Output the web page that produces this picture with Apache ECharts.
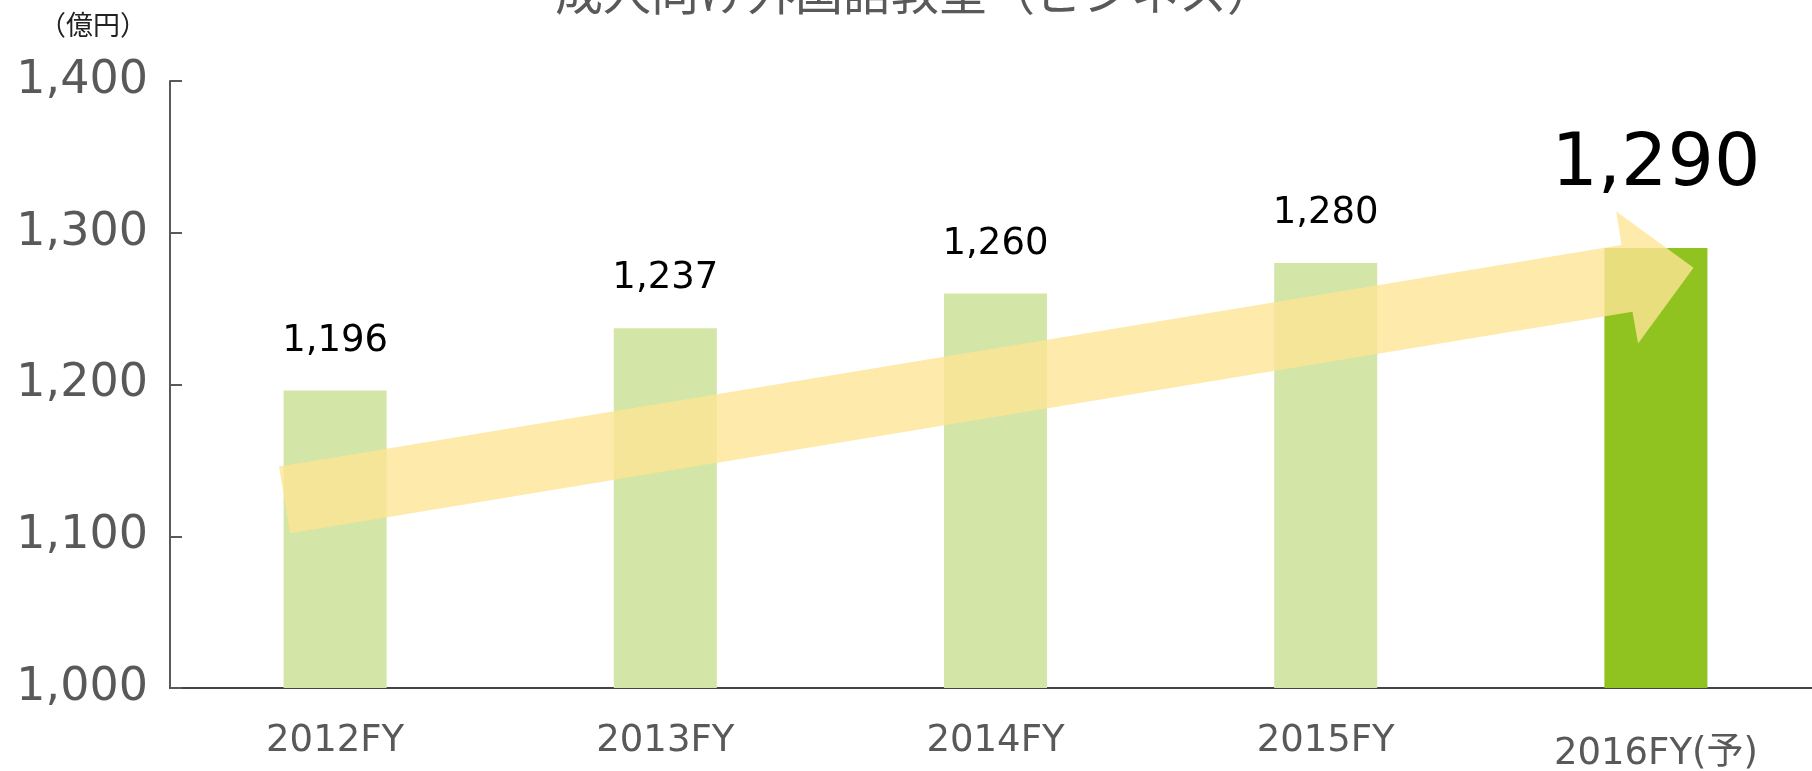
<!DOCTYPE html>
<html>
<head>
<meta charset="utf-8">
<script src="https://cdn.jsdelivr.net/npm/echarts@6/dist/echarts.min.js"></script>
<style>
  html, body { margin: 0; padding: 0; background: #fff; }
  #chart { width: 1812px; height: 771px; }
</style>
</head>
<body>
<div id="chart"></div>
<script>
const categories = ["2012FY", "2013FY", "2014FY", "2015FY", "2016FY(予)"];
const sales = [1196, 1237, 1260, 1280, 1290];
const yTicks = [1000, 1100, 1200, 1300, 1400];
// growth arrow outline, in [category position, 億円] space
const arrowPts = [
  [-0.170, 1146], [3.896, 1292], [3.880, 1314], [4.114, 1277],
  [3.946, 1227], [3.929, 1248], [-0.136, 1102]
];

const FONT = "'DejaVu Sans', 'Noto Sans CJK JP', sans-serif";
const fmt = (v) => v.toLocaleString("en-US");

const chart = echarts.init(document.getElementById("chart"));

chart.setOption({
  backgroundColor: "#fff",
  animation: false,
  title: [
    {
      text: "成人向け外国語教室（ビジネス）",
      left: 550,
      top: -37,
      textStyle: { color: "#595959", fontSize: 48, fontWeight: "normal", fontFamily: "'Noto Sans CJK JP', sans-serif" },
    },
    {
      text: "（億円）",
      left: 34,
      top: 6,
      textStyle: { color: "#222", fontSize: 27, fontWeight: "normal", fontFamily: "'Noto Sans CJK JP', sans-serif" },
    },
  ],
  grid: { left: 170, width: 1651, top: 81, bottom: 83, outerBoundsMode: "none" },
  xAxis: [
    {
      type: "category",
      data: categories,
      axisTick: { show: false },
      axisLine: { lineStyle: { color: "#444", width: 2 } },
      axisLabel: {
        interval: 0,
        color: "#595959",
        fontSize: 37,
        fontFamily: FONT,
        margin: 35,
        formatter: (v) => (v.indexOf("予") >= 0 ? "{p|" + v + "}" : v),
        rich: { p: { lineHeight: 62, fontSize: 37, color: "#595959", fontFamily: FONT } },
      },
    },
    { type: "value", min: -0.5, max: 4.5, show: false },
  ],
  yAxis: {
    type: "value",
    min: yTicks[0],
    max: yTicks[yTicks.length - 1],
    interval: 100,
    splitLine: { show: false },
    axisLine: { show: true, onZero: false, lineStyle: { color: "#595959", width: 2 } },
    axisTick: { show: true, inside: true, length: 12, lineStyle: { color: "#595959", width: 2 } },
    axisLabel: { color: "#595959", fontSize: 46, fontFamily: FONT, margin: 22, formatter: fmt },
  },
  series: [
    {
      type: "bar",
      barWidth: 103,
      data: sales.map((v, i) => {
        const last = i === sales.length - 1;
        return {
          value: v,
          itemStyle: { color: last ? "#90c31f" : "#d3e5a7" },
          label: last ? { fontSize: 73, distance: 45 } : undefined,
        };
      }),
      label: {
        show: true,
        position: "top",
        distance: 31,
        color: "#000",
        fontSize: 37,
        fontFamily: FONT,
        formatter: (p) => fmt(p.value),
      },
      z: 2,
    },
    {
      type: "custom",
      xAxisIndex: 1,
      data: [0],
      silent: true,
      z: 5,
      renderItem: (params, api) => ({
        type: "polygon",
        shape: { points: arrowPts.map((p) => api.coord(p)) },
        style: { fill: "rgba(254,229,149,0.8)" },
      }),
    },
  ],
});
</script>
</body>
</html>
